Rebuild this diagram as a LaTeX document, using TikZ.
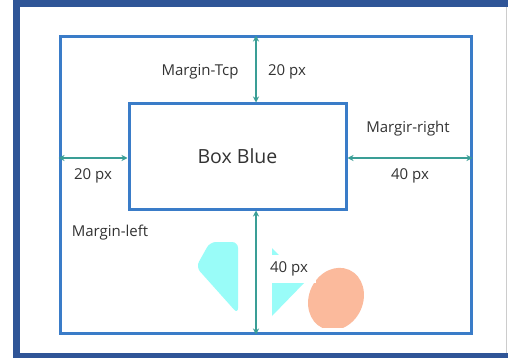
\documentclass[tikz,border=0pt]{standalone}
\usepackage{fontspec}
\setmainfont{Open Sans}
\usetikzlibrary{arrows.meta}
\definecolor{frameblue}{HTML}{2F5597}
\definecolor{boxblue}{HTML}{3A7CC8}
\definecolor{arrowteal}{HTML}{3A9E96}
\definecolor{cyanshape}{HTML}{99FCF8}
\definecolor{blobsalmon}{HTML}{FBBA9C}
\definecolor{labeltext}{HTML}{333333}
\tikzset{
  framebox/.style={draw=boxblue, line width=3, inner sep=0},
  marrow/.style={draw=arrowteal, line width=1.5, {Stealth[length=6,width=6]}-{Stealth[length=6,width=6]}},
  lbl/.style={text=labeltext, inner sep=1, font=\fontsize{15}{17}\selectfont},
}
\begin{document}
\begin{tikzpicture}[x=1pt,y=-1pt]
\useasboundingbox (0,0) rectangle (508,358);
\fill[white] (0,0) rectangle (508,358);
% outer frame
\fill[frameblue] (13,0) rectangle (508,7);
\fill[frameblue] (13,0) rectangle (20,358);
\fill[frameblue] (13,353) rectangle (508,358);
\draw[black!20, line width=0.8] (506.5,7) -- (506.5,353);
% decorations
\fill[cyanshape, rounded corners=6] (210,242) -- (238,242) -- (238,314) -- (196,267) -- cycle;
\fill[cyanshape] (272,248) -- (305,282) -- (272,316) -- cycle;
\begin{scope}
  \clip (290,255) rectangle (380,327);
  \fill[blobsalmon] (336,299) ellipse [x radius=27, y radius=32, rotate=-25];
\end{scope}
% boxes
\node[framebox, minimum width=411, minimum height=296] (outer) at (265.5,185) {};
\node[framebox, fill=white, minimum width=217, minimum height=105,
      font=\fontsize{19.5}{22}\selectfont, text=labeltext] (box) at (237.5,156.5) {Box Blue};
% arrow guides
\coordinate (ax) at (256,0);
\coordinate (ay) at (0,158);
\draw[marrow] (ax |- outer.north) -- (ax |- box.north);
\draw[marrow] (ay -| outer.west) -- (ay -| box.west);
\draw[marrow] (ay -| box.east) -- (ay -| outer.east);
\draw[marrow] (ax |- box.south) -- (ax |- outer.south);
% labels
\node[lbl] (ltop) at (200,72) {Margin-Tcp};
\node[lbl] (ltopv) at (287,72) {20 px};
\node[lbl] (lleftv) at (93,176) {20 px};
\node[lbl] (lright) at (408,129) {Margir-right};
\node[lbl] (lrightv) at (410,176) {40 px};
\node[lbl] (lleft) at (110,233) {Margin-left};
\node[lbl, fill=white, minimum width=54, minimum height=28] (lbotv) at (289,269) {40 px};
\end{tikzpicture}
\end{document}
